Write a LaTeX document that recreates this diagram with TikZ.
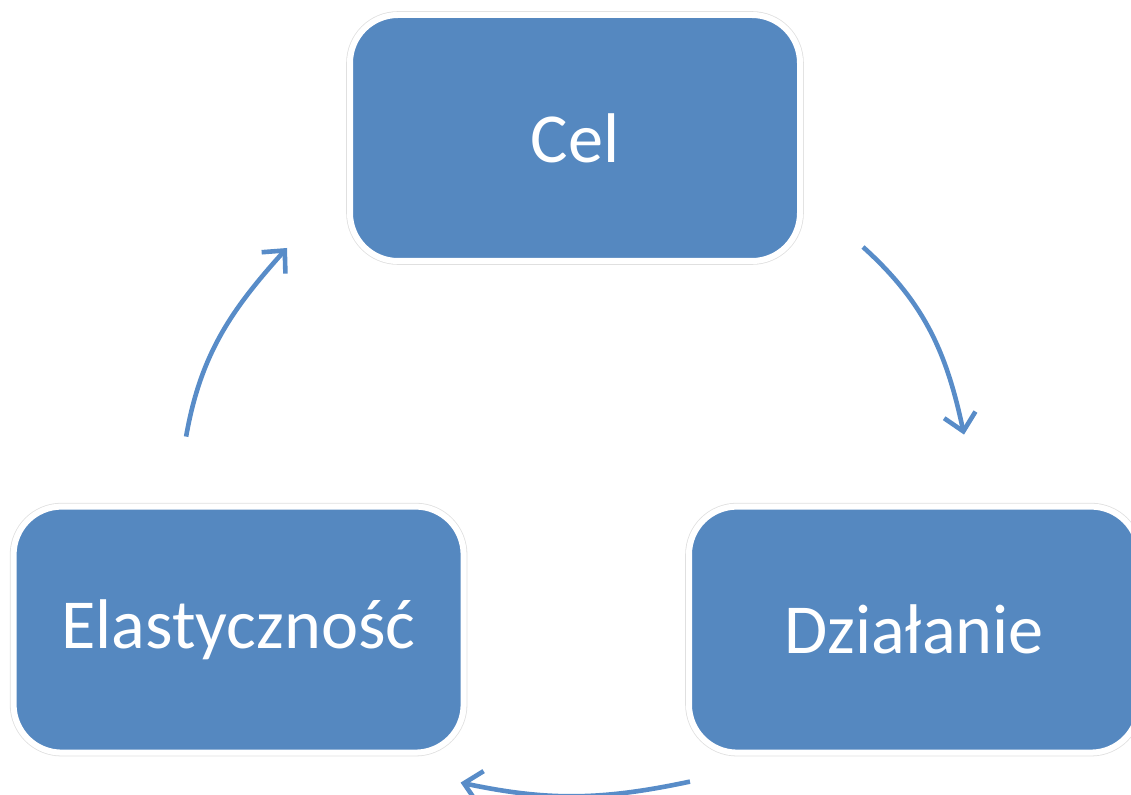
\documentclass[tikz,border=0pt]{standalone}
\usepackage{fontspec}
\setmainfont{Carlito}
\usetikzlibrary{positioning,arrows.meta}

\definecolor{boxblue}{RGB}{85,136,192}
\definecolor{arrowblue}{RGB}{88,140,200}

\begin{document}
\begin{tikzpicture}[
stagenode/.style={rectangle, rounded corners=1.2cm, fill=boxblue, draw=white, line width=0.15cm,
    preaction={draw=black!12, line width=0.19cm},
    minimum width=11.25cm, minimum height=6.15cm, outer sep=0pt,
    text=white, font=\fontsize{50}{55}\selectfont},
cyclearrow/.style={draw=arrowblue, line width=0.115cm, -{Straight Barb[length=0.42cm, width=0.8cm]}}
]
    \useasboundingbox (0,0) rectangle (28.275,19.85);

    %Nodes
    \node[stagenode]
        (cel)       at (14.375,16.4)                          {Cel};
    \node[stagenode, on grid]
        (dzial)     [below right=12.29cm and 8.475cm of cel]  {Działanie};
    \node[stagenode, on grid]
        (elast)     [below left=12.29cm and 8.41cm of cel]    {Elastyczność};

    %Arrow ends
    \coordinate (a1s) at ([xshift=1.575cm, yshift=0.35cm]cel.south east);
    \coordinate (a1e) at ([xshift=1.25cm, yshift=1.8cm]dzial.north);
    \coordinate (a2s) at ([xshift=0.025cm, yshift=-0.725cm]dzial.south west);
    \coordinate (a2e) at ([xshift=-0.075cm, yshift=-0.75cm]elast.south east);
    \coordinate (a3s) at ([xshift=-1.3125cm, yshift=1.75cm]elast.north);
    \coordinate (a3e) at ([xshift=-1.575cm, yshift=0.325cm]cel.south west);

    %Lines
    \draw[cyclearrow] (a1s) to[out=-42, in=102] (a1e);
    \draw[cyclearrow] (a2s) to[out=-168, in=-12] (a2e);
    \draw[cyclearrow] (a3s) to[out=80, in=-132] (a3e);
\end{tikzpicture}
\end{document}
